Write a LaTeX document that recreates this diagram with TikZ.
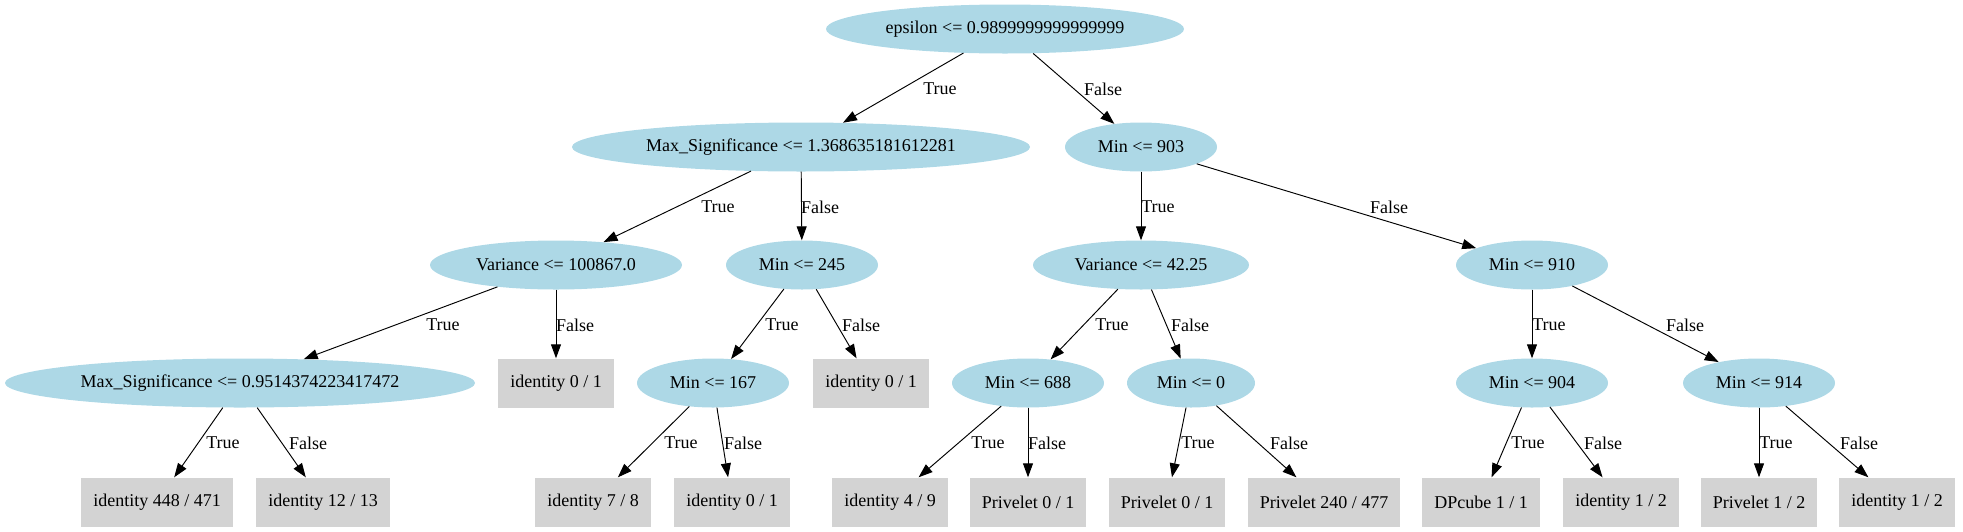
\documentclass[tikz,border=0pt]{standalone}
\usepackage{fontspec}
\setmainfont{Liberation Serif}
\usepackage{tikz}
\usetikzlibrary{arrows.meta,shapes.geometric}
\definecolor{splitblue}{HTML}{ADD8E6}
\definecolor{leafgray}{HTML}{D3D3D3}
\tikzset{
  sn/.style={ellipse, fill=splitblue, inner sep=0pt, minimum height=49pt,
             font=\fontsize{18}{20}\selectfont},                      % split node
  lf/.style={rectangle, fill=leafgray, inner xsep=12pt, minimum height=49pt,
             font=\fontsize{18}{20}\selectfont},                      % leaf
  de/.style={draw=black, line width=0.95pt, -{Triangle[length=14pt,width=10pt]}}, % decision edge
  lbl/.style={font=\fontsize{18}{20}\selectfont, inner sep=0pt},
}

\begin{document}
\begin{tikzpicture}[x=1pt, y=-1pt]
  \useasboundingbox (0,0) rectangle (1963,531);
  % level 0-2
  \node[sn, minimum width=358] (root) at (1005,29)  {epsilon <= 0.9899999999999999};
  \node[sn, minimum width=458] (ms1)  at (801,147)  {Max\_Significance <= 1.368635181612281};
  \node[sn, minimum width=152] (m903) at (1141,147) {Min <= 903};
  \node[sn, minimum width=252] (v1)   at (556,265)  {Variance <= 100867.0};
  \node[sn, minimum width=152] (m245) at (802,265)  {Min <= 245};
  \node[sn, minimum width=216] (v2)   at (1141,265) {Variance <= 42.25};
  \node[sn, minimum width=152] (m910) at (1532,265) {Min <= 910};
  % level 3
  \node[sn, minimum width=470] (ms2)  at (240,383)  {Max\_Significance <= 0.9514374223417472};
  \node[lf]                    (id1)  at (556,383)  {identity 0 / 1};
  \node[sn, minimum width=152] (m167) at (713,383)  {Min <= 167};
  \node[lf]                    (id2)  at (871,383)  {identity 0 / 1};
  \node[sn, minimum width=152] (m688) at (1028,383) {Min <= 688};
  \node[sn, minimum width=128] (m0)   at (1191,383) {Min <= 0};
  \node[sn, minimum width=152] (m904) at (1532,383) {Min <= 904};
  \node[sn, minimum width=152] (m914) at (1759,383) {Min <= 914};
  % leaves
  \node[lf] (lf1)  at (157,502)  {identity 448 / 471};
  \node[lf] (lf2)  at (323,502)  {identity 12 / 13};
  \node[lf] (lf3)  at (593,502)  {identity 7 / 8};
  \node[lf] (lf4)  at (732,502)  {identity 0 / 1};
  \node[lf] (lf5)  at (890,502)  {identity 4 / 9};
  \node[lf] (lf6)  at (1028,502) {Privelet 0 / 1};
  \node[lf] (lf7)  at (1167,502) {Privelet 0 / 1};
  \node[lf] (lf8)  at (1324,502) {Privelet 240 / 477};
  \node[lf] (lf9)  at (1481,502) {DPcube 1 / 1};
  \node[lf] (lf10) at (1621,502) {identity 1 / 2};
  \node[lf] (lf11) at (1759,502) {Privelet 1 / 2};
  \node[lf] (lf12) at (1897,502) {identity 1 / 2};
  % edges with their labels
  \foreach \u/\v/\t/\lx/\ly in {root/ms1/True/940/89, root/m903/False/1103/89,
      ms1/v1/True/718/207, ms1/m245/False/820/207,
      m903/v2/True/1158/207, m903/m910/False/1389/207,
      v1/ms2/True/443/325, v1/id1/False/575/325,
      m245/m167/True/782/325, m245/id2/False/861/325,
      v2/m688/True/1112/325, v2/m0/False/1190/325,
      m910/m904/True/1549/325, m910/m914/False/1685/325,
      ms2/lf1/True/223/443, ms2/lf2/False/308/443,
      m167/lf3/True/681/443, m167/lf4/False/743/443,
      m688/lf5/True/988/443, m688/lf6/False/1047/443,
      m0/lf7/True/1198/443, m0/lf8/False/1289/443,
      m904/lf9/True/1528/443, m904/lf10/False/1603/443,
      m914/lf11/True/1776/443, m914/lf12/False/1859/443}
  {
    \draw[de] (\u)--(\v);
    \node[lbl] (t-\v) at (\lx,\ly) {\t};
  }
\end{tikzpicture}
\end{document}
